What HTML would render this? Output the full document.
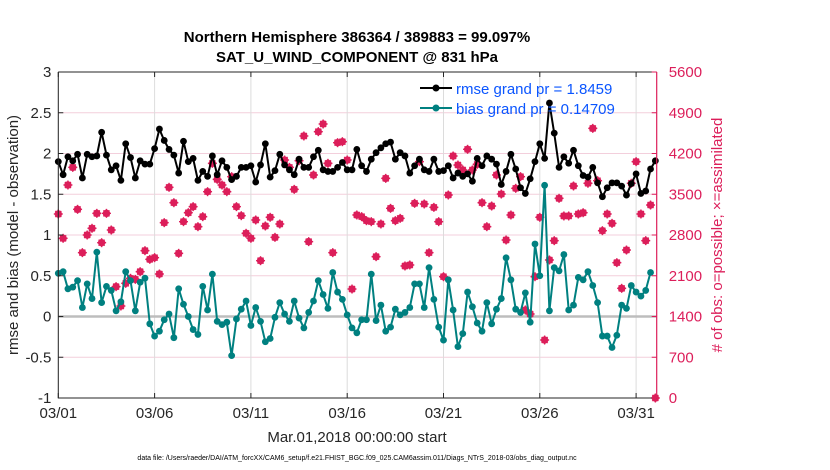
<!DOCTYPE html>
<html><head><meta charset="utf-8"><style>
html,body{margin:0;padding:0;background:#fff;}
svg{display:block;font-family:"Liberation Sans",sans-serif;}
</style></head><body>
<svg id="chart" width="830" height="470" viewBox="0 0 830 470">
<text x="357" y="42" text-anchor="middle" font-size="15" font-weight="bold" fill="#000">Northern Hemisphere 386364 / 389883 = 99.097%</text>
<text x="357" y="62" text-anchor="middle" font-size="15" font-weight="bold" fill="#000">SAT_U_WIND_COMPONENT @ 831 hPa</text>
<g id="grid"></g>
<g id="marks"></g>
<g id="axes"></g>
<text transform="translate(18,235) rotate(-90)" text-anchor="middle" font-size="15" fill="#262626">rmse and bias (model - observation)</text>
<text transform="translate(722,235) rotate(-90)" text-anchor="middle" font-size="15" fill="#dc1e5a"># of obs: o=possible; ×=assimilated</text>
<text x="357" y="442" text-anchor="middle" font-size="15" fill="#262626">Mar.01,2018 00:00:00 start</text>
<text x="357" y="460" text-anchor="middle" font-size="7" fill="#000">data file: /Users/raeder/DAI/ATM_forcXX/CAM6_setup/f.e21.FHIST_BGC.f09_025.CAM6assim.011/Diags_NTrS_2018-03/obs_diag_output.nc</text>
<g>
<g>
<line x1="420" y1="88" x2="452" y2="88" stroke="#000" stroke-width="2"/>
<circle cx="436" cy="88" r="3.5" fill="#000"/>
<text x="456" y="94" font-size="15" fill="#0a55ff">rmse grand pr = 1.8459</text>
</g>
<g>
<line x1="420" y1="108" x2="452" y2="108" stroke="#008080" stroke-width="2"/>
<circle cx="436" cy="108" r="3.5" fill="#008080"/>
<text x="456" y="114" font-size="15" fill="#0a55ff">bias grand pr = 0.14709</text>
</g>
</g>
</svg>
<script>
const rmse=[1.90,1.74,1.96,1.91,1.99,1.70,1.99,1.96,1.97,2.26,1.98,1.80,1.85,1.67,2.12,1.95,1.70,1.91,1.87,1.87,2.06,2.30,2.16,2.05,1.98,1.76,2.15,1.90,1.94,1.67,1.78,1.72,
1.97,1.74,1.91,1.83,1.68,1.72,1.83,1.83,1.85,1.65,1.86,2.12,1.71,1.79,1.99,1.86,1.80,1.74,1.93,1.83,1.83,1.96,2.04,1.80,1.78,1.78,1.83,1.89,1.80,1.80,2.05,
1.85,1.78,1.93,2.01,2.07,2.12,2.14,1.93,2.01,1.97,1.76,1.85,1.93,1.80,1.78,1.93,1.78,1.79,1.85,1.70,1.76,1.72,1.75,1.66,1.94,1.85,1.97,1.93,1.87,1.62,1.78,
1.99,1.81,1.58,1.51,1.69,1.90,2.12,1.94,2.62,2.25,1.83,1.96,1.88,2.04,1.85,1.73,1.71,1.83,1.64,1.47,1.58,1.64,1.64,1.60,1.49,1.63,1.75,1.51,1.54,1.81,1.91];
const bias=[0.53,0.55,0.34,0.36,0.44,0.11,0.40,0.22,0.79,0.17,0.37,0.32,0.07,0.18,0.55,0.44,0.07,0.42,0.47,-0.09,-0.24,-0.18,-0.04,0.03,-0.26,0.34,0.15,0.00,-0.16,-0.22,0.37,0.08,
0.52,-0.06,-0.10,-0.07,-0.48,-0.03,0.09,0.19,-0.11,0.11,-0.06,-0.31,-0.27,-0.01,0.17,0.03,-0.06,0.19,-0.02,-0.14,0.05,0.19,0.44,0.27,0.10,0.54,0.30,0.21,0.02,-0.14,
-0.20,-0.04,-0.04,0.52,-0.05,0.14,-0.18,-0.13,0.09,0.02,0.05,0.11,0.40,0.40,0.11,0.60,0.21,-0.13,-0.29,0.45,0.08,-0.37,-0.21,0.30,0.12,-0.08,-0.18,0.17,-0.09,0.09,0.22,
0.72,0.45,0.09,0.05,0.29,-0.07,0.89,0.50,1.61,0.07,0.60,0.56,0.76,0.08,0.14,0.48,0.45,0.55,0.38,0.17,-0.24,-0.24,-0.38,-0.23,0.14,0.10,0.38,0.30,0.25,0.32,0.54];
const nobs=[3161,2743,3659,3962,3241,2497,2800,2915,3172,2668,3172,2886,1913,1580,1970,2056,2038,2170,2531,2382,2411,2130,3012,3619,3355,2485,3029,3183,3287,2943,3115,3544,
4031,3756,3659,3544,3802,3287,3132,2829,2743,3058,2359,2955,3104,2760,2989,4088,3962,3584,4077,4501,2686,3831,4575,4707,4031,2497,4386,4403,4088,1872,3144,
3115,3046,3029,2428,2989,3773,3258,3046,3086,2268,2285,3344,4060,3333,2497,3275,3029,2084,3487,4157,4002,3917,4272,3917,4014,3355,2943,3298,3831,3504,2714,
3144,3602,3802,1512,1443,2084,3104,996,2371,2703,3430,3127,3127,3642,3161,3183,3688,4632,3733,2874,3161,3000,2325,1884,2542,3688,4060,3161,2703,3315,0];
const leftTicks=[-1,-0.5,0,0.5,1,1.5,2,2.5,3];
const rightTicks=[0,700,1400,2100,2800,3500,4200,4900,5600];
const dateTicks=[0,5,10,15,20,25,30];
const dateLabels=["03/01","03/06","03/11","03/16","03/21","03/26","03/31"];
const stepDays=0.25;

const L=58.3,R=656.7,T=72,B=398;
const xs=d=>L+d*19.26;
const yl=v=>B-(v+1)/4*(B-T);
const yr=v=>B-v/5600*(B-T);
const NS="http://www.w3.org/2000/svg";
function mk(tag,attrs,parent){const e=document.createElementNS(NS,tag);for(const k in attrs)e.setAttribute(k,attrs[k]);parent.appendChild(e);return e;}
const grid=document.getElementById('grid'),marks=document.getElementById('marks'),axes=document.getElementById('axes');

leftTicks.forEach(v=>{const l=mk('line',{x1:L,x2:R,y1:yl(v),y2:yl(v),stroke:'#f3cfdc','stroke-width':1},grid);

});
dateTicks.forEach(d=>{const l=mk('line',{x1:xs(d),x2:xs(d),y1:T,y2:B,stroke:'#dcdcdc','stroke-width':1},grid);

});
const zl=mk('line',{x1:L,x2:R,y1:yl(0),y2:yl(0),stroke:'#bdbdbd','stroke-width':2.5},grid);



nobs.forEach((n,i)=>{const x=i<rmse.length?xs(i*stepDays):R, y=yr(n);
const g=mk('g',{stroke:'#dc1e5a','stroke-width':1.4,fill:'none'},marks);


mk('circle',{cx:x,cy:y,r:3,fill:'#dc1e5a'},g);
mk('line',{x1:x-4.5,x2:x+4.5,y1:y,y2:y},g);
mk('line',{x1:x,x2:x,y1:y-4.5,y2:y+4.5},g);
mk('line',{x1:x-3,x2:x+3,y1:y-3,y2:y+3},g);
mk('line',{x1:x-3,x2:x+3,y1:y+3,y2:y-3},g);});

function series(arr,color,name){
const pts=arr.map((v,i)=>xs(i*stepDays).toFixed(1)+','+yl(v).toFixed(1)).join(' ');
const pl=mk('polyline',{points:pts,fill:'none',stroke:color,'stroke-width':2,'stroke-linejoin':'round'},marks);


arr.forEach((v,i)=>{const c=mk('circle',{cx:xs(i*stepDays),cy:yl(v),r:3.4,fill:color},marks);

});}
series(bias,'#008080','bias');
series(rmse,'#000000','rmse');

const box=mk('path',{d:`M${L},${T}H${R}M${L},${T}V${B}H${R}`,stroke:'#262626','stroke-width':1,fill:'none'},axes);


const ra=mk('line',{x1:R,x2:R,y1:T,y2:B,stroke:'#dc1e5a','stroke-width':1.2},axes);


leftTicks.forEach(v=>{mk('line',{x1:L,x2:L+5,y1:yl(v),y2:yl(v),stroke:'#262626'},axes);
const t=mk('text',{x:L-7,y:yl(v)+5,'text-anchor':'end','font-size':15,fill:'#262626'},axes);t.textContent=String(v);

});
rightTicks.forEach(v=>{mk('line',{x1:R-5,x2:R,y1:yr(v),y2:yr(v),stroke:'#dc1e5a'},axes);
const t=mk('text',{x:R+12,y:yr(v)+5,'font-size':15,fill:'#dc1e5a'},axes);t.textContent=String(v);

});
dateTicks.forEach((d,i)=>{mk('line',{x1:xs(d),x2:xs(d),y1:B,y2:B-5,stroke:'#262626'},axes);
mk('line',{x1:xs(d),x2:xs(d),y1:T,y2:T+5,stroke:'#262626'},axes);
const t=mk('text',{x:xs(d),y:B+20,'text-anchor':'middle','font-size':15,fill:'#262626'},axes);t.textContent=dateLabels[i];

});
</script>
</body></html>
